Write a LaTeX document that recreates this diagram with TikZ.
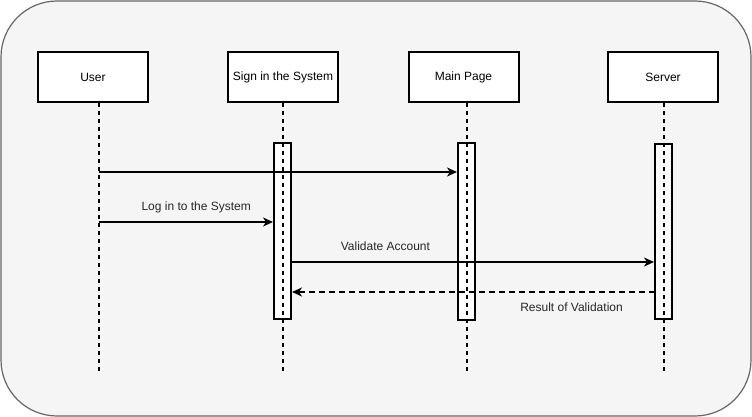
\documentclass[tikz,border=0pt]{standalone}
\usepackage{fontspec}
\setmainfont{Liberation Sans}
\usetikzlibrary{arrows.meta}

\begin{document}
\begin{tikzpicture}[x=1pt, y=-1pt, font=\fontsize{12}{14}\selectfont]
\tikzstyle{objet}=[draw, line width=2pt, fill=white, minimum width=110pt, minimum height=50pt, inner sep=0pt]
\tikzstyle{barre}=[draw, line width=2pt, fill=white, minimum width=17pt, minimum height=176pt, inner sep=0pt]
\tikzstyle{vie}=[line width=2pt, dash pattern=on 4pt off 4pt]
\tikzstyle{message}=[line width=1.6pt, -{Stealth[length=10pt,width=9pt,inset=3pt]}]
\tikzstyle{retour}=[message, dash pattern=on 6pt off 4pt]
\tikzstyle{texte}=[anchor=base, inner sep=0pt, text=black!85]
\useasboundingbox (0,0) rectangle (752,417);
\draw[rounded corners=56pt, fill=black!4, draw=black!60, line width=1.2pt] (1,1) rectangle (751,416);
\node[objet] (user) at (93,77) {User};
\node[objet] (sign) at (283,77) {Sign in the System};
\node[objet] (main) at (463.5,77) {Main Page};
\node[objet] (server) at (663,77) {Server};
\node[barre] (barresign) at (282.5,231) {};
\node[barre, minimum height=177pt] (barremain) at (466.5,231.5) {};
\node[barre, minimum height=175pt] (barreserver) at (663.5,231.5) {};
\coordinate (finuser) at (98.5,372);
\coordinate (finsign) at (283,372);
\coordinate (finmain) at (466.5,372);
\coordinate (finserver) at (663.5,372);
\draw[vie] (user.south -| finuser) -- (finuser);
\draw[vie] (sign.south -| finsign) -- (finsign);
\draw[vie] (main.south -| finmain) -- (finmain);
\draw[vie] (server.south -| finserver) -- (finserver);
\coordinate (m1) at (98.5,172);
\coordinate (m2) at (98.5,222);
\coordinate (m3) at (291,262);
\coordinate (m4) at (655,292);
\draw[message] (m1) -- (barremain.west |- m1);
\draw[message] (m2) -- node[texte, pos=0.56, yshift=12pt] {Log in to the System} (barresign.west |- m2);
\draw[message] (m3) -- node[texte, pos=0.26, yshift=12pt] {Validate Account} (barreserver.west |- m3);
\draw[retour] (m4) -- node[texte, pos=0.23, yshift=-19pt] {Result of Validation} (barresign.east |- m4);
\end{tikzpicture}
\end{document}
